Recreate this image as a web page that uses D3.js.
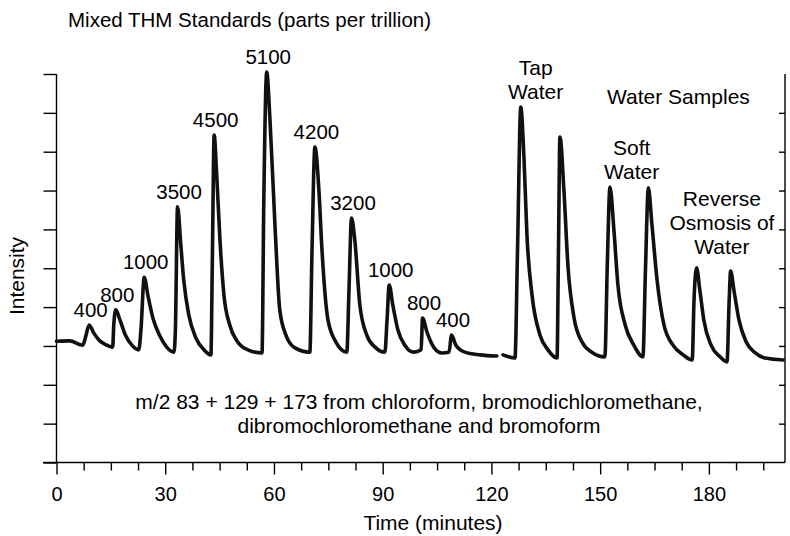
<!DOCTYPE html>
<html>
<head>
<meta charset="utf-8">
<script src="https://cdn.jsdelivr.net/npm/d3@7"></script>
<style>
  html, body { margin: 0; padding: 0; background: #fff; }
  svg { display: block; }
  text { font-family: "Liberation Sans", Arial, Helvetica, sans-serif; fill: #000; }
</style>
</head>
<body>
<svg id="chart" width="790" height="536"></svg>
<script>
// ---- Data ----
// Trace: time in minutes, intensity in axis-tick units (null = gap in trace)
const traceTime = [
  0, 3.67, 7.26, 8.1, 9.0, 10.3, 11.95, 13.9, 15.5, 15.8, 16.37, 17.5, 19.1, 20.8,
  22.7, 23.3, 24.2, 25.2, 26.6, 28.5, 30.4, 32.4, 32.8, 33.4, 34.3, 35.1, 36.5, 38.5,
  40.7, 42.6, 43.0, 43.5, 44.2, 45.1, 46.2, 47.8, 50.0, 52.8, 56.7, 57.2, 58.0, 58.9,
  60.3, 61.6, 63.3, 65.8, 69.9, 70.5, 71.3, 72.4, 73.2, 74.9, 77.1, 80.1, 80.7, 81.4,
  82.3, 83.7, 85.6, 87.9, 90.6, 91.2, 91.8, 92.8, 94.2, 96.1, 98.6, 100.6, 101.0,
  102.2, 104.2, 106.3, 108.3, 109.0, 110.2, 112.7, 116.8, 121.5, 122.3, 123.2, 126.5,
  127.2, 128.1, 129.0, 129.8, 131.2, 133.4, 135.6, 138.1, 138.5, 138.9, 140.0, 141.1,
  142.8, 145.0, 147.7, 151.3, 152.0, 152.7, 153.8, 154.9, 156.9, 159.3, 161.8, 162.5,
  163.3, 164.3, 165.7, 167.6, 170.1, 172.9, 175.4, 175.9, 176.6, 177.5, 178.6, 180.6,
  183.1, 185.0, 185.6, 186.0, 186.9, 188.3, 190.3, 192.8, 195.5, 200.5
];
const traceIntensity = [
  3.12, 3.13, 3.02, 3.26, 3.54, 3.33, 3.13, 3.02, 2.97, 3.54, 3.93, 3.67, 3.26, 3.02,
  2.90, 3.41, 4.77, 4.31, 3.72, 3.26, 2.97, 2.84, 3.41, 6.58, 5.60, 4.70, 3.80, 3.20,
  2.90, 2.77, 5.21, 8.43, 7.40, 5.73, 4.31, 3.54, 3.10, 2.90, 2.82, 6.76, 10.05, 8.82,
  6.06, 3.93, 3.28, 2.95, 2.84, 5.47, 8.12, 7.01, 5.55, 3.67, 3.10, 2.84, 4.44, 6.29,
  5.73, 4.05, 3.28, 2.97, 2.84, 3.67, 4.57, 4.05, 3.41, 3.02, 2.84, 2.90, 3.72,
  3.36, 2.95, 2.82, 2.84, 3.28, 3.02, 2.84, 2.77, 2.74, null, 2.77, 2.69,
  5.47, 9.15, 7.79, 5.86, 4.31, 3.28, 2.90, 2.69, 5.47, 8.38, 7.01, 5.08,
  3.72, 3.10, 2.84, 2.72, 5.21, 7.09, 5.98, 4.57, 3.54, 3.02, 2.72, 4.96,
  7.07, 6.11, 4.70, 3.54, 3.02, 2.77, 2.64, 4.18, 5.01, 4.44, 3.67, 3.02,
  2.72, 2.59, 4.18, 4.93, 4.44, 3.67, 3.10, 2.82, 2.69, 2.64
];

// Standard peak labels (parts per trillion) at their apex time / intensity
const stdLabels = ["400", "800", "1000", "3500", "4500", "5100", "4200", "3200", "1000", "800", "400"];
const stdTimes  = [9.0, 16.37, 24.2, 33.4, 43.5, 58.0, 71.3, 81.4, 91.8, 101.0, 109.0];
const stdHeights = [3.54, 3.93, 4.77, 6.58, 8.43, 10.05, 8.12, 6.29, 4.57, 3.72, 3.28];

// Water sample annotations: lines of text, anchor time, anchor intensity (first baseline)
const sampleLabels = [["Tap", "Water"], ["Water Samples"], ["Soft", "Water"], ["Reverse", "Osmosis of", "Water"]];
const sampleTimes = [132.2, 171.6, 158.7, 183.6];
const sampleHeights = [9.97, 9.23, 7.92, 6.59];

const xMajorTicks = [0, 30, 60, 90, 120, 150, 180];
const xMinorTicks = [7.5, 15, 22.5, 37.5, 45, 52.5, 67.5, 75, 82.5, 97.5, 105, 112.5, 127.5, 135, 142.5, 157.5, 165, 172.5, 187.5, 195];
const yTicks = [0, 1, 2, 3, 4, 5, 6, 7, 8, 9, 10];
const yRightTicks = [1, 2, 3, 4, 5, 6, 7, 8, 9];

const title = "Mixed THM Standards (parts per trillion)";
const noteLines = ["m/2 83 + 129 + 173 from chloroform, bromodichloromethane,", "dibromochloromethane and bromoform"];
const xTitle = "Time (minutes)";
const yTitle = "Intensity";

// ---- Drawing ----
const svg = d3.select("#chart");
svg.append("rect").attr("width", 790).attr("height", 536).attr("fill", "#fff");

const x = d3.scaleLinear().domain([0, 201]).range([56.5, 785]);
const y = d3.scaleLinear().domain([0, 10]).range([462.5, 74]);
const axisStroke = 1.4;

// bottom axis: minor ticks
const gMinor = svg.append("g").attr("transform", "translate(0,462.5)")
  .call(d3.axisBottom(x).tickValues(xMinorTicks).tickSize(8).tickFormat(""));
// bottom axis: major ticks
const gMajor = svg.append("g").attr("transform", "translate(0,462.5)")
  .call(d3.axisBottom(x).tickValues(xMajorTicks).tickSize(12).tickFormat(d3.format("d")));
gMajor.selectAll("text").attr("y", 38).attr("dy", "0").style("font-size", "20px");

// left axis ticks
const gLeft = svg.append("g").attr("transform", "translate(56.5,0)")
  .call(d3.axisLeft(y).tickValues(yTicks).tickSize(13).tickFormat(""));
// right axis ticks (pointing inward)
const gRight = svg.append("g").attr("transform", "translate(785,0)")
  .call(d3.axisLeft(y).tickValues(yRightTicks).tickSize(6).tickFormat(""));

[gMinor, gMajor, gLeft, gRight].forEach(g => {
  g.select(".domain").remove();
  g.selectAll(".tick line").attr("stroke", "#000").attr("stroke-width", axisStroke);
});

// frame lines
svg.append("line").attr("x1", 43).attr("x2", 785).attr("y1", y(0)).attr("y2", y(0))
  .attr("stroke", "#000").attr("stroke-width", axisStroke);
svg.append("line").attr("x1", x(0)).attr("x2", x(0)).attr("y1", y(10)).attr("y2", y(0))
  .attr("stroke", "#000").attr("stroke-width", axisStroke);
svg.append("line").attr("x1", 785).attr("x2", 785).attr("y1", y(10)).attr("y2", y(0))
  .attr("stroke", "#000").attr("stroke-width", axisStroke);

// trace
const traceData = traceTime.map((t, i) => ({ t, v: traceIntensity[i] }));
const line = d3.line()
  .defined(d => d.v !== null)
  .curve(d3.curveMonotoneX)
  .x(d => x(d.t)).y(d => y(d.v));
svg.append("path").datum(traceData)
  .attr("fill", "none").attr("stroke", "#111")
  .attr("stroke-width", 3.6).attr("stroke-linejoin", "round").attr("stroke-linecap", "round")
  .attr("d", line);

// standard peak labels
svg.append("g").selectAll("text").data(stdLabels).join("text")
  .attr("x", (d, i) => x(stdTimes[i]) + 1.5)
  .attr("y", (d, i) => y(stdHeights[i]) - 8)
  .attr("text-anchor", "middle")
  .style("font-size", "20.5px")
  .text(d => d);

// sample annotations
sampleLabels.forEach((lines, i) => {
  const t = svg.append("text")
    .attr("x", x(sampleTimes[i])).attr("y", y(sampleHeights[i]))
    .attr("text-anchor", "middle").style("font-size", "21px");
  lines.forEach((s, j) => {
    t.append("tspan").attr("x", x(sampleTimes[i])).attr("dy", j === 0 ? 0 : 23.8).text(s);
  });
});

// title
svg.append("text").attr("x", 68).attr("y", 27).style("font-size", "20.5px").text(title);

// note
const note = svg.append("text").attr("x", 419).attr("y", 409)
  .attr("text-anchor", "middle").style("font-size", "21px");
noteLines.forEach((s, j) => {
  note.append("tspan").attr("x", 419).attr("dy", j === 0 ? 0 : 23.5).text(s);
});

// axis titles
svg.append("text").attr("x", 433).attr("y", 530).attr("text-anchor", "middle")
  .style("font-size", "21px").text(xTitle);
svg.append("text").attr("transform", "translate(24,276) rotate(-90)")
  .attr("text-anchor", "middle").style("font-size", "21px").text(yTitle);
</script>
</body>
</html>
